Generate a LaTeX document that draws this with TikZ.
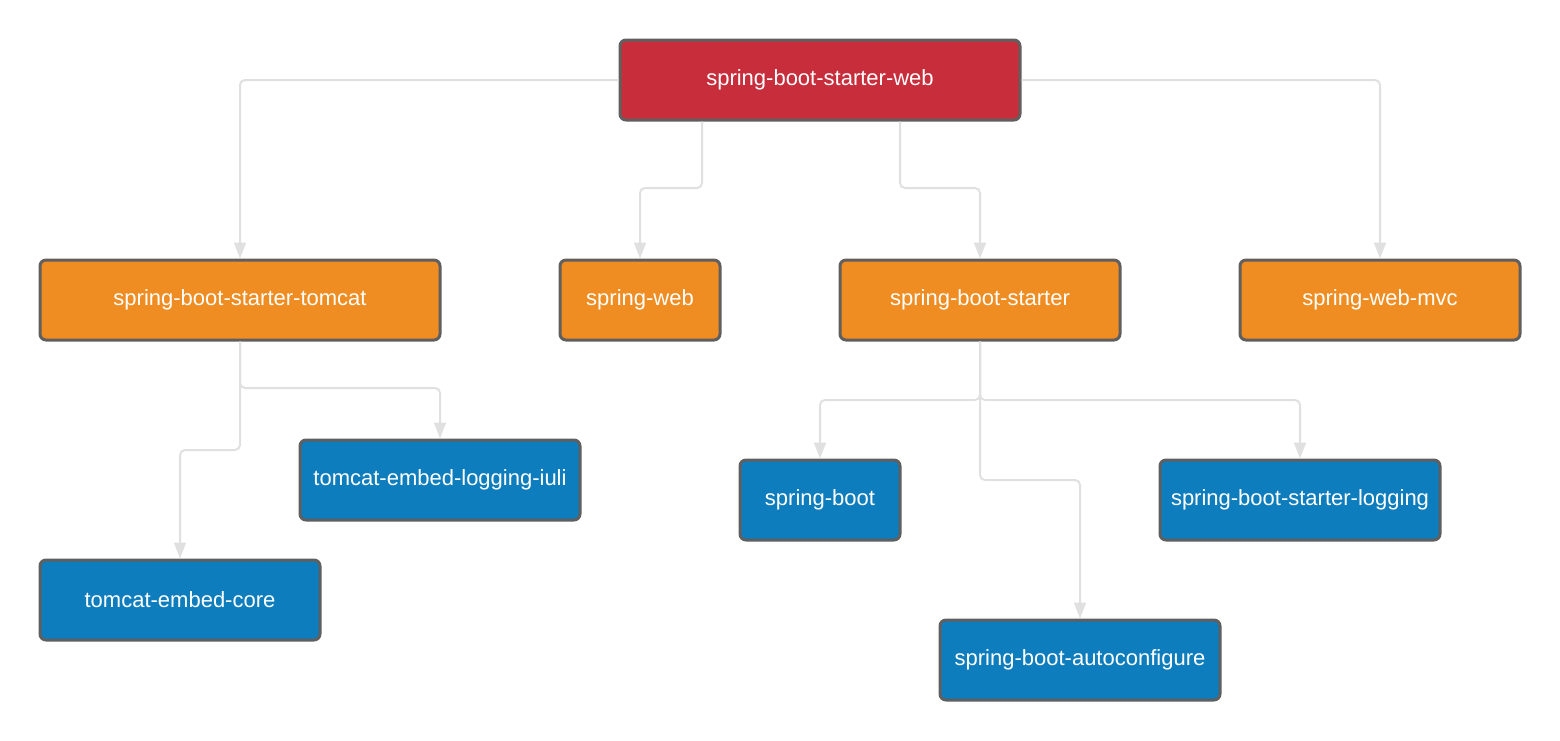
\documentclass[tikz,border=0pt]{standalone}
\usepackage{fontspec}
\setmainfont{Liberation Sans}
\usetikzlibrary{arrows.meta,calc}
\definecolor{cred}{RGB}{199,45,58}
\definecolor{corange}{RGB}{239,141,34}
\definecolor{cblue}{RGB}{14,125,189}
\definecolor{cborder}{RGB}{95,95,95}
\definecolor{cline}{RGB}{224,224,224}
\tikzset{
  box/.style={draw=cborder, line width=1.5pt, rounded corners=3pt, text=white,
    minimum height=40pt, inner sep=0pt, font=\fontsize{11}{13}\selectfont},
  redbox/.style={box, fill=cred},
  orangebox/.style={box, fill=corange},
  bluebox/.style={box, fill=cblue},
  conn/.style={draw=cline, line width=1pt, rounded corners=2.5pt,
    -{Triangle[width=6pt,length=8pt,fill=cline]}},
}
\begin{document}
\begin{tikzpicture}[x=0.5pt,y=-0.5pt]
\useasboundingbox (0,0) rectangle (1560,740);
% nodes
\node[redbox, minimum width=200pt] (web) at (820,80) {spring-boot-starter-web};
\node[orangebox, minimum width=200pt] (tomcat) at (240,300) {spring-boot-starter-tomcat};
\node[orangebox, minimum width=80pt] (sweb) at (640,300) {spring-web};
\node[orangebox, minimum width=140pt] (starter) at (980,300) {spring-boot-starter};
\node[orangebox, minimum width=140pt] (mvc) at (1380,300) {spring-web-mvc};
\node[bluebox, minimum width=140pt] (logiuli) at (440,480) {tomcat-embed-logging-iuli};
\node[bluebox, minimum width=140pt] (core) at (180,600) {tomcat-embed-core};
\node[bluebox, minimum width=80pt] (boot) at (820,500) {spring-boot};
\node[bluebox, minimum width=140pt] (slog) at (1300,500) {spring-boot-starter-logging};
\node[bluebox, minimum width=140pt] (auto) at (1080,660) {spring-boot-autoconfigure};
% connectors
\draw[conn] (web.west) -| (tomcat.north);
\draw[conn] (web.east) -| (mvc.north);
\draw[conn] ($(web.south)+(-118,0)$) |- ($(sweb.north)+(0,-70.5)$) -- (sweb.north);
\draw[conn] ($(web.south)+(80,0)$) |- ($(starter.north)+(0,-70.5)$) -- (starter.north);
\draw[conn] (tomcat.south) |- ($(logiuli.north)+(0,-50.5)$) -- (logiuli.north);
\draw[conn] (tomcat.south) |- ($(core.north)+(0,-108.5)$) -- (core.north);
\draw[conn] (starter.south) |- ($(boot.north)+(0,-58.5)$) -- (boot.north);
\draw[conn] (starter.south) |- ($(slog.north)+(0,-58.5)$) -- (slog.north);
\draw[conn] (starter.south) |- ($(auto.north)+(0,-138.5)$) -- (auto.north);
\end{tikzpicture}
\end{document}
